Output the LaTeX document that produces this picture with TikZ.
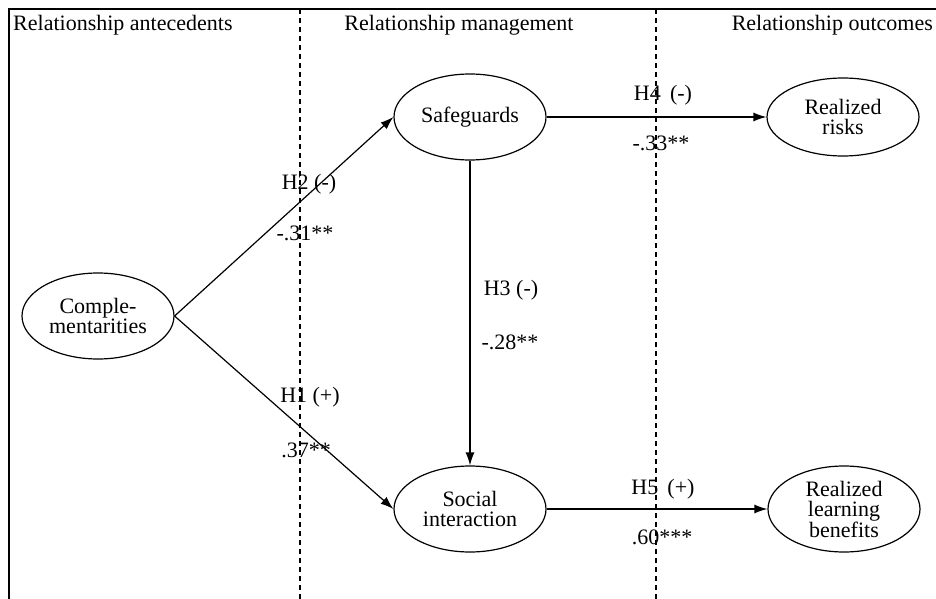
\documentclass[tikz,border=0pt]{standalone}
\usepackage{fontspec}
\setmainfont{Liberation Serif}
\usetikzlibrary{shapes.geometric,arrows.meta}
\tikzset{
  construct/.style={draw,ellipse,line width=1.2pt,minimum width=152pt,minimum height=86pt,inner sep=0pt,align=center,font=\fontsize{22}{20.5}\selectfont},
  path/.style={line width=1.2pt,-{Latex[length=13pt,width=9pt]}},
  zone/.style={line width=1.1pt,dash pattern=on 5pt off 4pt},
  lbl/.style={inner sep=0pt,font=\fontsize{22}{21}\selectfont}
}
\begin{document}
\begin{tikzpicture}[x=1pt,y=-1pt]
\useasboundingbox (0,0) rectangle (936,599);
%Frame
\draw[line width=1.2pt] (9,599) -- (9,9) -- (936,9);
\draw[zone] (300,9) -- (300,599);
\draw[zone] (656,9) -- (656,599);
%Headers
\node[lbl,anchor=west] (antec) at (13,25) {Relationship antecedents};
\node[lbl] (manag) at (459,25) {Relationship management};
\node[lbl,anchor=east] (outc) at (933,25) {Relationship outcomes};
%Constructs
\node[construct] (comp) at (98,316) {Comple-\\mentarities};
\node[construct] (safe) at (470,117) {Safeguards};
\node[construct] (soc) at (470,509) {Social\\interaction};
\node[construct,minimum height=78pt] (risk) at (843,117) {Realized\\risks};
\node[construct] (learn) at (844,509) {Realized\\learning\\benefits};
%Paths
\draw[path] (comp.east) -- (safe.west);
\draw[path] (comp.east) -- (soc.west);
\draw[path] (safe.south) -- (soc.north);
\draw[path] (safe.east) -- (risk.west);
\draw[path] (soc.east) -- (learn.west);
%Text
\node[lbl] (h2) at (309,184) {H2 (-)};
\node[lbl] (h2v) at (305,233) {-.31**};
\node[lbl] (h1) at (310,397) {H1 (+)};
\node[lbl] (h1v) at (306,450) {.37**};
\node[lbl] (h3) at (511,290) {H3 (-)};
\node[lbl] (h3v) at (510,342) {-.28**};
\node[lbl] (h4) at (663,95) {H4\,\ (-)};
\node[lbl] (h4v) at (661,143) {-.33**};
\node[lbl] (h5) at (663,489) {H5\,\ (+)};
\node[lbl] (h5v) at (662,537) {.60***};
\end{tikzpicture}
\end{document}
